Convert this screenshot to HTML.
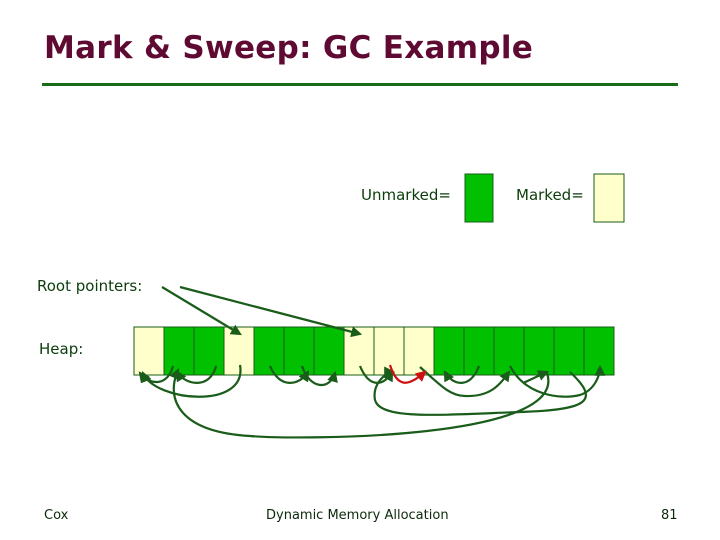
<!DOCTYPE html>
<html><head><style>
body{margin:0;background:#fff;}
.w{position:relative;width:720px;height:540px;overflow:hidden;font-family:"DejaVu Sans","Liberation Sans",sans-serif;}
.t{position:absolute;left:44px;top:30px;font-size:31px;font-weight:bold;color:#5e0a32;letter-spacing:0.3px;}
.l{position:absolute;font-size:15px;color:#0b3d0b;}
.f{position:absolute;font-size:13px;color:#0b2a0b;top:508px;}
</style></head><body><div class="w">
<div class="t">Mark &amp; Sweep: GC Example</div>
<div class="l" style="left:361px;top:186px">Unmarked=</div>
<div class="l" style="left:516px;top:186px">Marked=</div>
<div class="l" style="left:37px;top:277px">Root pointers:</div>
<div class="l" style="left:39px;top:340px">Heap:</div>
<div class="f" style="left:44px">Cox</div>
<div class="f" style="left:266px">Dynamic Memory Allocation</div>
<div class="f" style="left:661px">81</div>
<svg width="720" height="540" style="position:absolute;left:0;top:0">
<defs><marker id="a" viewBox="0 0 10 10" refX="8" refY="5" markerWidth="5" markerHeight="5" orient="auto"><path d="M0,0L10,5L0,10z" fill="#1a5c1a"/></marker>
<marker id="r" viewBox="0 0 10 10" refX="8" refY="5" markerWidth="5" markerHeight="5" orient="auto"><path d="M0,0L10,5L0,10z" fill="#d01010"/></marker></defs>
<rect x="42" y="83" width="636" height="3" fill="#1a6b1a"/>
<rect x="465" y="174" width="28" height="48" fill="#00c000" stroke="#1a5c1a"/>
<rect x="594" y="174" width="30" height="48" fill="#ffffcc" stroke="#1a5c1a"/>
<g stroke="#1a5c1a" stroke-width="1">
<rect x="134" y="327" width="30" height="48" fill="#ffffcc"/>
<rect x="164" y="327" width="30" height="48" fill="#00c000"/>
<rect x="194" y="327" width="30" height="48" fill="#00c000"/>
<rect x="224" y="327" width="30" height="48" fill="#ffffcc"/>
<rect x="254" y="327" width="30" height="48" fill="#00c000"/>
<rect x="284" y="327" width="30" height="48" fill="#00c000"/>
<rect x="314" y="327" width="30" height="48" fill="#00c000"/>
<rect x="344" y="327" width="30" height="48" fill="#ffffcc"/>
<rect x="374" y="327" width="30" height="48" fill="#ffffcc"/>
<rect x="404" y="327" width="30" height="48" fill="#ffffcc"/>
<rect x="434" y="327" width="30" height="48" fill="#00c000"/>
<rect x="464" y="327" width="30" height="48" fill="#00c000"/>
<rect x="494" y="327" width="30" height="48" fill="#00c000"/>
<rect x="524" y="327" width="30" height="48" fill="#00c000"/>
<rect x="554" y="327" width="30" height="48" fill="#00c000"/>
<rect x="584" y="327" width="30" height="48" fill="#00c000"/>
</g>
<g fill="none" stroke="#1a5c1a" stroke-width="2.2" marker-end="url(#a)">
<path d="M162,287 L240,334"/>
<path d="M180,287 L360,334"/>
<path d="M173,366 C168,386 150,386 140,373"/>
<path d="M216,366 C210,390 185,385 177,372"/>
<path d="M240,365 C248,410 155,402 143,373"/>
<path d="M547,373 C570,440 300,440 250,436 C180,432 165,400 178,370"/>
<path d="M270,366 C280,390 300,385 308,372"/>
<path d="M302,366 C310,390 330,390 335,373"/>
<path d="M360,366 C370,390 385,385 392,372"/>
<path d="M420,367 C440,385 450,396 465,396 C490,397 500,385 509,372"/>
<path d="M479,366 C470,390 452,385 445,372"/>
<path d="M510,366 C525,395 560,400 580,395 C595,390 600,375 600,367" marker-end=""/>
<path d="M523,383 C530,380 540,375 547,372"/>
<path d="M570,372 C600,400 590,410 520,412 C440,415 380,420 375,400 C372,385 385,372 393,372"/>
</g>
<path d="M390,365 C398,390 410,385 425,372" fill="none" stroke="#d01010" stroke-width="2.2" marker-end="url(#r)"/>
</svg>
</div></body></html>
